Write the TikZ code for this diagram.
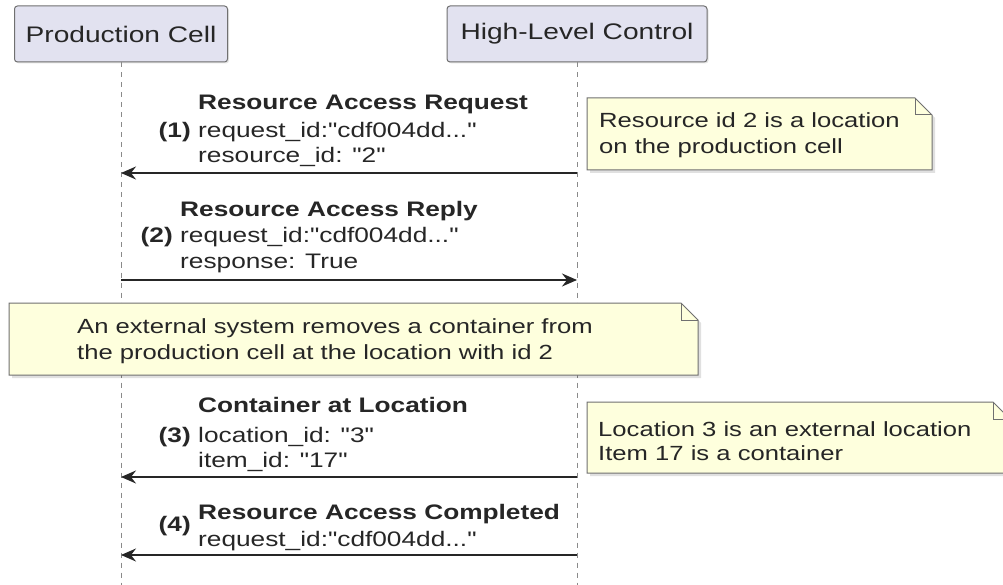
\documentclass[tikz,border=0pt]{standalone}
\usepackage{fontspec}
\setmainfont[FakeStretch=1.25,Ligatures=TeXOff]{Liberation Sans}
\usetikzlibrary{arrows.meta,shadows}
\definecolor{partfill}{HTML}{E2E2F0}
\definecolor{notefill}{HTML}{FEFFDD}
\definecolor{ink}{HTML}{262626}
\definecolor{edge}{HTML}{707070}
\definecolor{lifec}{HTML}{8A8A8A}
\tikzset{
 part/.style={draw=edge, line width=1pt, fill=partfill, rounded corners=3pt, minimum height=56pt, inner sep=0pt, font=\fontsize{22.5}{26}\selectfont, text=ink, drop shadow={shadow xshift=1.5pt, shadow yshift=-1.5pt, opacity=0.2}},
 life/.style={draw=lifec, line width=1pt, dash pattern=on 5pt off 5pt},
 msg/.style={draw=ink, line width=1.4pt, -{Stealth[length=15pt,width=13pt,inset=5pt]}},
 lbl/.style={anchor=base west, inner sep=0pt, font=\fontsize{21}{25}\selectfont, text=ink},
 ttl/.style={anchor=base west, inner sep=0pt, font=\fontsize{21}{25}\selectfont\bfseries, text=ink},
 num/.style={anchor=base east, inner sep=0pt, font=\fontsize{21}{25}\selectfont\bfseries, text=ink},
 notetxt/.style={anchor=base west, inner sep=0pt, font=\fontsize{20.5}{25}\selectfont, text=ink},
 notebox/.style={draw=edge, line width=1pt, fill=notefill},
 noteshadow/.style={fill=black, opacity=0.12},
 fold/.style={draw=edge, line width=1pt}
}
\begin{document}
\begin{tikzpicture}[x=1pt,y=-1pt]
\useasboundingbox (0,0) rectangle (1003,585);
\clip (0,0) rectangle (1003,585);
\fill[white] (0,0) rectangle (1003,585);

% participants
\node[part, minimum width=213pt] (pc) at (121,34) {Production Cell};
\node[part, minimum width=260pt] (hlc) at (577,34) {High-Level Control};
\coordinate (pcend) at (121,585);
\coordinate (hlcend) at (577,585);
\draw[life] (pc.south) -- (pcend);
\draw[life] (hlc.south) -- (hlcend);

% message 1
\node[ttl] (t1) at (198,110) {Resource Access Request};
\node[num] (n1) at (191,138) {(1)};
\node[lbl] (a1) at (198,138) {request\_id:"cdf004dd..."};
\node[lbl] (b1) at (198,163) {resource\_id: "2"};
\coordinate (m1s) at (577,173);
\coordinate (m1e) at (121,173);
\draw[msg] (m1s) -- (m1e);

% note 1
\fill[noteshadow] (590,101) -- (918,101) -- (935,118) -- (935,173) -- (590,173) -- cycle;
\draw[notebox] (587,98) -- (915,98) -- (932,115) -- (932,170) -- (587,170) -- cycle;
\draw[fold] (915,98) -- (915,115) -- (932,115);
\node[notetxt] (nt1a) at (599,128) {Resource id 2 is a location};
\node[notetxt] (nt1b) at (599,154) {on the production cell};

% message 2
\node[ttl] (t2) at (180,217) {Resource Access Reply};
\node[num] (n2) at (173,243) {(2)};
\node[lbl] (a2) at (180,243) {request\_id:"cdf004dd..."};
\node[lbl] (b2) at (180,269) {response: True};
\coordinate (m2s) at (121,280);
\coordinate (m2e) at (577,280);
\draw[msg] (m2s) -- (m2e);

% note 2
\fill[noteshadow] (12,306) -- (684,306) -- (701,323) -- (701,378) -- (12,378) -- cycle;
\draw[notebox] (9,303) -- (681,303) -- (698,320) -- (698,375) -- (9,375) -- cycle;
\draw[fold] (681,303) -- (681,320) -- (698,320);
\node[notetxt] (nt2a) at (77,333) {An external system removes a container from};
\node[notetxt] (nt2b) at (77,359) {the production cell at the location with id 2};

% message 3
\node[ttl] (t3) at (198,412) {Container at Location};
\node[num] (n3) at (191,442) {(3)};
\node[lbl] (a3) at (198,442) {location\_id: "3"};
\node[lbl] (b3) at (198,467) {item\_id: "17"};
\coordinate (m3s) at (577,477);
\coordinate (m3e) at (121,477);
\draw[msg] (m3s) -- (m3e);

% note 3
\fill[noteshadow] (590,405) -- (996,405) -- (1013,422) -- (1013,476) -- (590,476) -- cycle;
\draw[notebox] (587,402) -- (993,402) -- (1010,419) -- (1010,473) -- (587,473) -- cycle;
\draw[fold] (993,402) -- (993,419) -- (1010,419);
\node[notetxt] (nt3a) at (598,436) {Location 3 is an external location};
\node[notetxt] (nt3b) at (598,460) {Item 17 is a container};

% message 4
\node[ttl] (t4) at (198,519) {Resource Access Completed};
\node[num] (n4) at (191,531) {(4)};
\node[lbl] (a4) at (198,546) {request\_id:"cdf004dd..."};
\coordinate (m4s) at (577,555);
\coordinate (m4e) at (121,555);
\draw[msg] (m4s) -- (m4e);
\end{tikzpicture}
\end{document}
